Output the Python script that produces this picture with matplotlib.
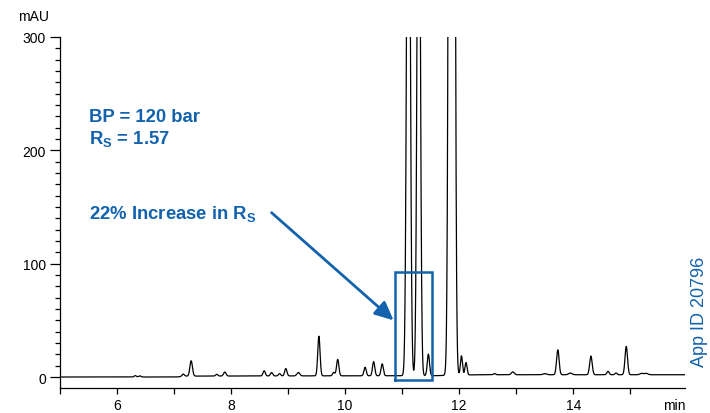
import numpy as np
import matplotlib
matplotlib.use("Agg")
import matplotlib.pyplot as plt
from matplotlib.ticker import MultipleLocator

plt.rcParams['font.family'] = ['Liberation Sans', 'DejaVu Sans']

blue = '#1262ad'

# peak table (time in min, height in mAU, width sigma in min)
peak_t = [6.32, 6.40, 7.16, 7.30, 7.75, 7.89, 8.58, 8.71, 8.85, 8.96, 9.18, 9.80, 9.54, 9.87,
          10.35, 10.50, 10.65, 11.11, 11.29, 11.46, 11.87, 12.04, 12.12, 12.62,
          12.94, 13.50, 13.73, 13.95, 14.31, 14.61, 14.75, 14.93, 15.20, 15.28]
peak_h = [1.2, 1.0, 2.0, 13.5, 1.5, 3.5, 4.5, 3.0, 2.0, 6.5, 3.0, 3.0, 35, 14.5,
          7.5, 12.5, 10.5, 650, 600, 19, 3000, 17, 11, 1.0,
          2.5, 1.0, 22, 1.5, 16.5, 3.0, 1.5, 25, 1.2, 1.2]
peak_w = [0.02, 0.02, 0.02, 0.022, 0.02, 0.022, 0.02, 0.02, 0.02, 0.02, 0.025, 0.02, 0.02, 0.02,
          0.02, 0.02, 0.02, 0.028, 0.026, 0.02, 0.032, 0.018, 0.018, 0.02,
          0.025, 0.03, 0.022, 0.03, 0.022, 0.02, 0.02, 0.022, 0.03, 0.03]

# slow baseline drift
base_t = [5.0, 7.05, 7.2, 11.6, 12.3, 16.0]
base_y = [0.0, 0.0, 0.8, 1.2, 2.0, 2.0]

box_t = [10.87, 11.52]
box_y = [-3, 93]

t = np.linspace(5, 15.96, 6000)
y = np.interp(t, base_t, base_y)
for p, h, w in zip(peak_t, peak_h, peak_w):
    y += h * np.exp(-0.5 * ((t - p) / w) ** 2)

fig = plt.figure(figsize=(7.1, 4.14), dpi=100)
ax = fig.add_axes([60 / 710, 25 / 414, 625 / 710, 351 / 414])
ax.plot(t, y, color='black', lw=0.9)
ax.set_xlim(5, 15.96)
ax.set_ylim(-9.7, 300)

for s in ['top', 'right']:
    ax.spines[s].set_visible(False)
for s in ['left', 'bottom']:
    ax.spines[s].set_linewidth(0.9)

ax.xaxis.set_major_locator(MultipleLocator(2))
ax.xaxis.set_minor_locator(MultipleLocator(1))
ax.yaxis.set_major_locator(MultipleLocator(100))
ax.yaxis.set_minor_locator(MultipleLocator(10))
ax.tick_params(axis='x', which='both', length=4.3, width=0.9, pad=3, labelsize=10)
ax.tick_params(axis='y', which='major', length=7.2, width=0.9, pad=3, labelsize=10)
ax.tick_params(axis='y', which='minor', length=3.6, width=0.9)

fig.text(18 / 710, 1 - 17 / 414, 'mAU', fontsize=10, ha='left', va='center')
fig.text(686 / 710, 1 - 406 / 414, 'min', fontsize=10, ha='right', va='center')

# selection box around the critical pair
ax.plot([box_t[0], box_t[1], box_t[1], box_t[0], box_t[0]],
        [box_y[0], box_y[0], box_y[1], box_y[1], box_y[0]], color=blue, lw=1.8,
        solid_joinstyle='miter')

ax.annotate('', xy=(10.85, 50), xytext=(8.71, 145),
            arrowprops=dict(arrowstyle='-|>,head_length=0.75,head_width=0.35',
                            mutation_scale=15, lw=2, color=blue, shrinkA=0, shrinkB=0))

ax.text(5.51, 226, 'BP = 120 bar', color=blue, fontsize=13.3, fontweight='bold', va='baseline')
ax.text(5.51, 206.5, r'R$_\mathregular{S}$ = 1.57', color=blue, fontsize=13.3,
        fontweight='bold', va='baseline')
ax.text(5.51, 140.3, r'22% Increase in R$_\mathregular{S}$', color=blue, fontsize=13.3,
        fontweight='bold', va='baseline')

fig.text(700 / 710, 1 - 312 / 414, 'App ID 20796', color=blue, fontsize=13,
         rotation=90, ha='center', va='center')

fig.savefig('out.png', dpi=100)
